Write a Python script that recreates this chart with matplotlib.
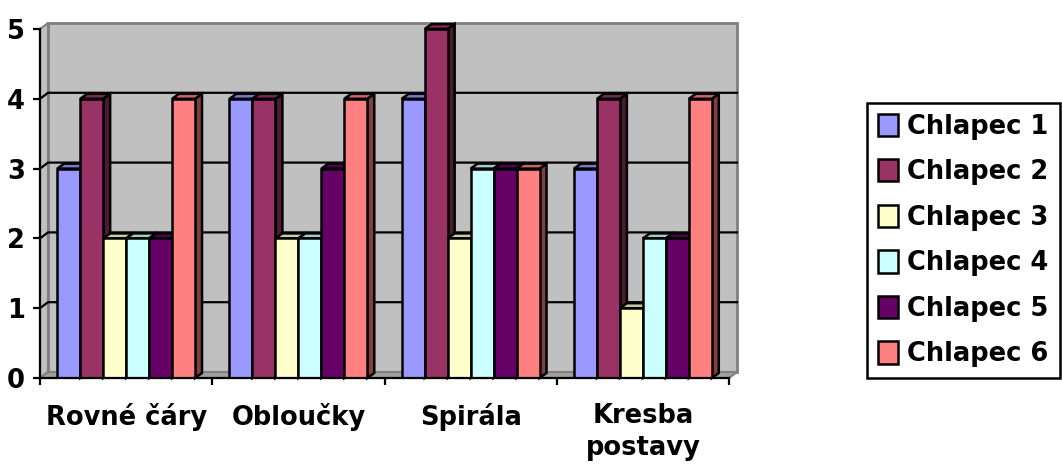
import matplotlib.pyplot as plt
from matplotlib.patches import Polygon, Patch
import matplotlib.colors as mcolors
import numpy as np

kategorie = ['Rovné čáry', 'Obloučky', 'Spirála', 'Kresba\npostavy']
chlapci = ['Chlapec 1', 'Chlapec 2', 'Chlapec 3', 'Chlapec 4', 'Chlapec 5', 'Chlapec 6']
ch1 = [3, 4, 4, 3]
ch2 = [4, 4, 5, 4]
ch3 = [2, 2, 2, 1]
ch4 = [2, 2, 3, 2]
ch5 = [2, 3, 3, 2]
ch6 = [4, 4, 3, 4]
hodnoty = [ch1, ch2, ch3, ch4, ch5, ch6]
barvy = ['#9999ff', '#993366', '#ffffcc', '#ccffff', '#660066', '#ff8080']

plt.rcParams['font.family'] = ['DejaVu Sans']
plt.rcParams['font.weight'] = 'bold'

W, H = 1062, 468
fig = plt.figure(figsize=(W / 100, H / 100), dpi=100)
ax = fig.add_axes([40 / W, 90 / H, 689 / W, 349 / H])
ax.set_xlim(0, 4)
ax.set_ylim(0, 5)
ax.patch.set_visible(False)

# prevod pixelu na jednotky dat (hloubka 3D efektu)
px_x = 689 / 4
px_y = 349 / 5
wdx, wdy = 8 / px_x, 6 / px_y   # zadni stena
bdx, bdy = 7 / px_x, 5 / px_y   # sloupce

seda = '#c0c0c0'
tmava = '#808080'
# zadni stena, bocni stena, podlaha
ax.add_patch(Polygon([(wdx, wdy), (4 + wdx, wdy), (4 + wdx, 5 + wdy), (wdx, 5 + wdy)],
                     fc=seda, ec=tmava, lw=2, zorder=0.5, clip_on=False))
ax.add_patch(Polygon([(0, 0), (wdx, wdy), (wdx, 5 + wdy), (0, 5)],
                     fc=seda, ec=tmava, lw=1.5, zorder=0.6, clip_on=False))
ax.add_patch(Polygon([(0, 0), (4, 0), (4 + wdx, wdy), (wdx, wdy)],
                     fc='#a0a0a0', ec=tmava, lw=1.5, zorder=0.6, clip_on=False))
for k in range(1, 5):
    ax.plot([0, wdx, 4 + wdx], [k, k + wdy, k + wdy], color='black', lw=1.6,
            zorder=0.7, clip_on=False)

sirka = 0.8 / len(chlapci)
z = 3
for i in range(len(kategorie)):
    for j, serie in enumerate(hodnoty):
        x0 = i + 0.1 + j * sirka
        h = serie[i]
        rgb = np.array(mcolors.to_rgb(barvy[j]))
        ax.add_patch(Polygon([(x0 + sirka, 0), (x0 + sirka + bdx, bdy),
                              (x0 + sirka + bdx, h + bdy), (x0 + sirka, h)],
                             fc=rgb * 0.5, ec='black', lw=1.8, zorder=z, clip_on=False))
        ax.add_patch(Polygon([(x0, h), (x0 + sirka, h), (x0 + sirka + bdx, h + bdy),
                              (x0 + bdx, h + bdy)],
                             fc=rgb * 0.8, ec='black', lw=1.8, zorder=z, clip_on=False))
        ax.bar(x0, h, width=sirka, align='edge', color=barvy[j], edgecolor='black',
               linewidth=1.8, zorder=z + 0.5)
        z += 1

for s in ['top', 'right']:
    ax.spines[s].set_visible(False)
for s in ['left', 'bottom']:
    ax.spines[s].set_linewidth(1.6)
    ax.spines[s].set_zorder(z + 1)

ax.set_yticks(range(6))
ax.set_xticks(range(5))
ax.set_xticklabels([])
ax.set_xticks(np.arange(4) + 0.5, minor=True)
ax.set_xticklabels(kategorie, minor=True, fontsize=18.5, fontweight='bold', linespacing=1.3)
ax.tick_params(axis='x', which='major', length=5, width=1.6, direction='out')
ax.tick_params(axis='x', which='minor', length=0, pad=18)
ax.tick_params(axis='y', length=5, width=1.6, pad=6, labelsize=18.5)

ruce = [Patch(fc=c, ec='black', lw=1.8) for c in barvy]
leg = ax.legend(ruce, chlapci, loc='center', bbox_to_anchor=(963.5 / W, 1 - 240.5 / H),
                bbox_transform=fig.transFigure, fontsize=18.5, frameon=True, fancybox=False,
                edgecolor='black', framealpha=1, handlelength=0.78, handleheight=0.95,
                handletextpad=0.36, labelspacing=0.76, borderpad=0.42, borderaxespad=0)
leg.get_frame().set_linewidth(1.8)
leg.set_zorder(z + 2)

fig.savefig('out.png', dpi=100)
